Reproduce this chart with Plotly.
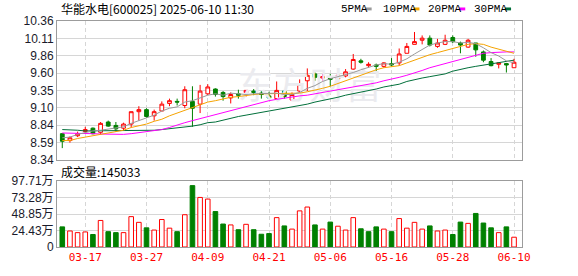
import plotly.graph_objects as go
import numpy as np

# ---------------- data ----------------
dates = ["03-12", "03-13", "03-14", "03-17", "03-18", "03-19", "03-20", "03-21", "03-24", "03-25",
         "03-26", "03-27", "03-28", "03-31", "04-01", "04-02", "04-03", "04-07", "04-08", "04-09",
         "04-10", "04-11", "04-14", "04-15", "04-16", "04-17", "04-18", "04-21", "04-22", "04-23",
         "04-24", "04-25", "04-28", "04-29", "04-30", "05-06", "05-07", "05-08", "05-09", "05-12",
         "05-13", "05-14", "05-15", "05-16", "05-19", "05-20", "05-21", "05-22", "05-23", "05-26",
         "05-27", "05-28", "05-29", "05-30", "06-03", "06-04", "06-05", "06-06", "06-09", "06-10"]

opens = [8.72, 8.62, 8.69, 8.75, 8.80, 8.74, 8.89, 8.84, 8.80, 8.86,
         9.04, 9.07, 8.98, 9.05, 9.16, 9.19, 9.13, 9.19, 9.15, 9.30,
         9.37, 9.32, 9.24, 9.30, 9.32, 9.34, 9.31, 9.27, 9.23, 9.34,
         9.21, 9.34, 9.49, 9.59, 9.53, 9.55, 9.52, 9.56, 9.66, 9.78,
         9.71, 9.72, 9.70, 9.74, 9.75, 9.89, 10.02, 10.08, 10.11, 9.99,
         10.02, 10.12, 10.04, 9.98, 10.04, 9.91, 9.77, 9.73, 9.74, 9.68]
highs = [8.73, 8.68, 8.75, 8.82, 8.81, 8.89, 8.91, 8.89, 8.88, 9.04,
         9.12, 9.09, 9.07, 9.19, 9.23, 9.23, 9.41, 9.41, 9.43, 9.44,
         9.38, 9.34, 9.32, 9.36, 9.35, 9.37, 9.34, 9.33, 9.48, 9.34,
         9.32, 9.51, 9.67, 9.61, 9.59, 9.59, 9.59, 9.66, 9.88, 9.81,
         9.76, 9.74, 9.76, 9.82, 9.96, 10.04, 10.20, 10.15, 10.15, 10.10,
         10.16, 10.15, 10.06, 10.10, 10.04, 9.93, 9.82, 9.75, 9.75, 9.81]
lows = [8.51, 8.59, 8.67, 8.72, 8.71, 8.71, 8.82, 8.75, 8.76, 8.81,
        8.91, 8.95, 8.91, 9.05, 9.12, 9.13, 9.09, 8.82, 9.02, 9.28,
        9.26, 9.20, 9.16, 9.23, 9.26, 9.28, 9.23, 9.23, 9.22, 9.23,
        9.20, 9.32, 9.34, 9.49, 9.48, 9.41, 9.46, 9.54, 9.65, 9.74,
        9.68, 9.63, 9.68, 9.70, 9.71, 9.89, 10.02, 10.02, 9.99, 9.97,
        10.01, 10.04, 9.89, 9.97, 9.84, 9.76, 9.70, 9.67, 9.61, 9.68]
closes = [8.61, 8.66, 8.72, 8.78, 8.72, 8.87, 8.83, 8.79, 8.86, 9.04,
          9.07, 8.97, 9.04, 9.15, 9.20, 9.18, 9.36, 9.09, 9.34, 9.40,
          9.29, 9.26, 9.29, 9.28, 9.35, 9.32, 9.29, 9.24, 9.35, 9.26,
          9.29, 9.44, 9.57, 9.54, 9.55, 9.51, 9.57, 9.62, 9.80, 9.76,
          9.73, 9.70, 9.75, 9.72, 9.88, 9.99, 10.06, 10.11, 10.01, 10.04,
          10.08, 10.06, 10.01, 10.08, 9.94, 9.79, 9.71, 9.75, 9.72, 9.76]
# volume in 万 (10k lots)
volumes = [29.8, 23.7, 21.3, 22.3, 18.5, 39.3, 22.7, 21.3, 21.3, 45.0,
           36.5, 28.4, 25.1, 40.7, 27.9, 22.7, 47.8, 90.9, 73.4, 71.0,
           52.5, 34.0, 32.7, 25.6, 33.6, 25.6, 18.9, 19.9, 43.5, 31.2,
           26.5, 53.5, 59.2, 32.7, 26.5, 36.9, 30.8, 25.1, 43.5, 27.0,
           22.7, 29.8, 26.5, 22.7, 42.1, 27.9, 36.5, 26.5, 31.2, 23.7,
           25.1, 18.5, 36.9, 35.0, 49.7, 35.5, 28.4, 21.3, 29.8, 14.5]

ma5 = [8.66, 8.67, 8.71, 8.74, 8.76, 8.77, 8.79, 8.80, 8.82, 8.87,
       8.91, 8.94, 8.99, 9.05, 9.09, 9.11, 9.18, 9.20, 9.24, 9.28,
       9.30, 9.28, 9.31, 9.30, 9.29, 9.30, 9.30, 9.30, 9.31, 9.29,
       9.29, 9.32, 9.38, 9.42, 9.48, 9.52, 9.55, 9.57, 9.61, 9.65,
       9.69, 9.72, 9.74, 9.73, 9.76, 9.81, 9.88, 9.95, 10.01, 10.04,
       10.06, 10.06, 10.04, 10.05, 10.03, 9.97, 9.90, 9.85, 9.78, 9.75]
ma10 = [8.62, 8.62, 8.65, 8.67, 8.69, 8.72, 8.74, 8.75, 8.77, 8.81,
        8.83, 8.86, 8.90, 8.93, 8.98, 9.02, 9.06, 9.10, 9.14, 9.18,
        9.20, 9.23, 9.25, 9.26, 9.28, 9.29, 9.30, 9.30, 9.30, 9.30,
        9.30, 9.31, 9.33, 9.35, 9.38, 9.41, 9.45, 9.49, 9.53, 9.57,
        9.62, 9.65, 9.68, 9.70, 9.71, 9.75, 9.79, 9.84, 9.87, 9.90,
        9.93, 9.96, 9.99, 10.02, 10.03, 10.02, 9.98, 9.95, 9.92, 9.89]
ma20 = [8.73, 8.73, 8.73, 8.73, 8.72, 8.715, 8.71, 8.71, 8.71, 8.72,
        8.735, 8.75, 8.77, 8.78, 8.81, 8.85, 8.88, 8.91, 8.94, 8.97,
        8.99, 9.02, 9.05, 9.08, 9.12, 9.15, 9.18, 9.20, 9.22, 9.24,
        9.26, 9.27, 9.28, 9.30, 9.31, 9.33, 9.35, 9.37, 9.39, 9.42,
        9.44, 9.46, 9.49, 9.51, 9.54, 9.57, 9.60, 9.64, 9.68, 9.71,
        9.74, 9.77, 9.81, 9.84, 9.87, 9.89, 9.90, 9.91, 9.91, 9.91]
ma30 = [8.78, 8.78, 8.77, 8.76, 8.76, 8.76, 8.76, 8.76, 8.76, 8.76,
        8.76, 8.77, 8.77, 8.78, 8.79, 8.81, 8.81, 8.83, 8.85, 8.88,
        8.89, 8.92, 8.95, 8.97, 8.99, 9.01, 9.03, 9.05, 9.06, 9.08,
        9.11, 9.13, 9.15, 9.18, 9.20, 9.22, 9.25, 9.28, 9.30, 9.33,
        9.35, 9.37, 9.40, 9.42, 9.44, 9.48, 9.51, 9.53, 9.55, 9.57,
        9.59, 9.63, 9.66, 9.68, 9.70, 9.72, 9.73, 9.75, 9.77, 9.79]

x_tick_labels = ["03-17", "03-27", "04-09", "04-21", "05-06", "05-16", "05-28", "06-10"]
price_tick_text = ["8.34", "8.59", "8.84", "9.10", "9.35", "9.60", "9.86", "10.11", "10.36"]
vol_tick_text = ["0", "24.43万", "48.85万", "73.28万", "97.71万"]
price_min, price_max = 8.34, 10.36
vol_max = 97.71
latest_volume = 145033
title_text = "华能水电[600025] 2025-06-10 11:30"
ma_names = ["5PMA", "10PMA", "20PMA", "30PMA"]
watermark = "东方财富"

# ---------------- styling ----------------
W, H = 578, 276
ML, MR, MT, MB = 55, 56, 21, 21
PW, PH = W - ML - MR, H - MT - MB
RED, GREEN = "#ff0000", "#008000"
MA_COLORS = ["#9a9a9a", "#f5a300", "#ff00ff", "#006f3a"]
GRID = "#d6d6d6"
FRAME = "#9c9c9c"


def px_x(px):
    return (px - ML) / PW


def px_y(py):
    return (H - MB - py) / PH


xs = list(range(len(dates)))
tickpos = [dates.index(d) for d in x_tick_labels]
xrange_ = [-0.69, len(dates) + 0.04]

fig = go.Figure()

# watermark (drawn first, under the data)
fig.add_trace(go.Scatter(x=[32.3], y=[9.36], mode="text", text=[watermark],
                         textfont=dict(family="Noto Sans CJK SC", size=36, color="#ebebef"),
                         hoverinfo="skip", showlegend=False, xaxis="x", yaxis="y"))

for vals, col in zip([ma30, ma20, ma10, ma5], MA_COLORS[::-1]):
    fig.add_trace(go.Scatter(x=xs, y=vals, mode="lines", line=dict(color=col, width=1),
                             hoverinfo="skip", showlegend=False, xaxis="x", yaxis="y"))

fig.add_trace(go.Candlestick(
    x=xs, open=opens, high=highs, low=lows, close=closes,
    increasing=dict(line=dict(color=RED, width=1), fillcolor="#ffffff"),
    decreasing=dict(line=dict(color=GREEN, width=1), fillcolor=GREEN),
    whiskerwidth=0, showlegend=False, xaxis="x", yaxis="y"))

prev = [opens[0]] + closes[:-1]
vol_up = [c >= p for c, p in zip(closes, prev)]
fig.add_trace(go.Bar(
    x=xs, y=volumes,
    marker=dict(color=["#ffffff" if u else GREEN for u in vol_up],
                line=dict(color=[RED if u else GREEN for u in vol_up], width=1)),
    showlegend=False, hoverinfo="skip", xaxis="x2", yaxis="y2"))

axis_common = dict(showgrid=True, gridcolor=GRID, gridwidth=1, zeroline=False,
                   showline=True, linecolor=FRAME, linewidth=1, mirror=True, ticks="")

fig.update_layout(
    width=W, height=H, margin=dict(l=ML, r=MR, t=MT, b=MB),
    paper_bgcolor="white", plot_bgcolor="white", showlegend=False, bargap=0.4,
    xaxis=dict(domain=[0, 1], anchor="y", range=xrange_, tickvals=tickpos, showticklabels=False,
               griddash="4px,3px", rangeslider=dict(visible=False), **axis_common),
    xaxis2=dict(domain=[0, 1], anchor="y2", range=xrange_, matches="x", tickvals=tickpos,
                ticktext=x_tick_labels, griddash="4px,3px",
                tickfont=dict(family="DejaVu Sans Mono", size=11, color=RED), **axis_common),
    yaxis=dict(domain=[px_y(164.7), 1], anchor="x", range=[price_min, price_max],
               tickvals=list(np.linspace(price_min, price_max, len(price_tick_text))),
               ticktext=price_tick_text,
               tickfont=dict(family="Liberation Sans", size=12, color="#1a1a2a"), **axis_common),
    yaxis2=dict(domain=[0, px_y(186.7)], anchor="x2", range=[0, vol_max],
                tickvals=list(np.linspace(0, vol_max, len(vol_tick_text))),
                ticktext=vol_tick_text,
                tickfont=dict(family="Liberation Sans, Noto Sans CJK SC", size=12, color="#1a1a2a"),
                **axis_common),
)

ann = []
ann.append(dict(text=title_text, x=px_x(57), y=px_y(8), xref="paper", yref="paper",
                xanchor="left", yanchor="middle", showarrow=False,
                font=dict(family="Noto Sans CJK SC", size=12, color="#000000")))
ann.append(dict(text="成交量:" + str(latest_volume), x=px_x(57), y=px_y(177), xref="paper", yref="paper",
                xanchor="left", yanchor="middle", showarrow=False,
                font=dict(family="Noto Sans CJK SC", size=12, color="#000000")))
leg_text_x = [338, 380, 426, 472]
leg_sw_x = [365, 413, 459, 505]
shapes = []
for name, tx, sx, col in zip(ma_names, leg_text_x, leg_sw_x, MA_COLORS):
    ann.append(dict(text=name, x=px_x(tx), y=px_y(8.5), xref="paper", yref="paper",
                    xanchor="left", yanchor="middle", showarrow=False,
                    font=dict(family="Liberation Mono", size=11, color="#000000")))
    shapes.append(dict(type="rect", xref="paper", yref="paper",
                       x0=px_x(sx), x1=px_x(sx + 6), y0=px_y(10), y1=px_y(7),
                       fillcolor=col, line=dict(width=0)))
fig.update_layout(annotations=ann, shapes=shapes)

fig.write_html("out.html")
